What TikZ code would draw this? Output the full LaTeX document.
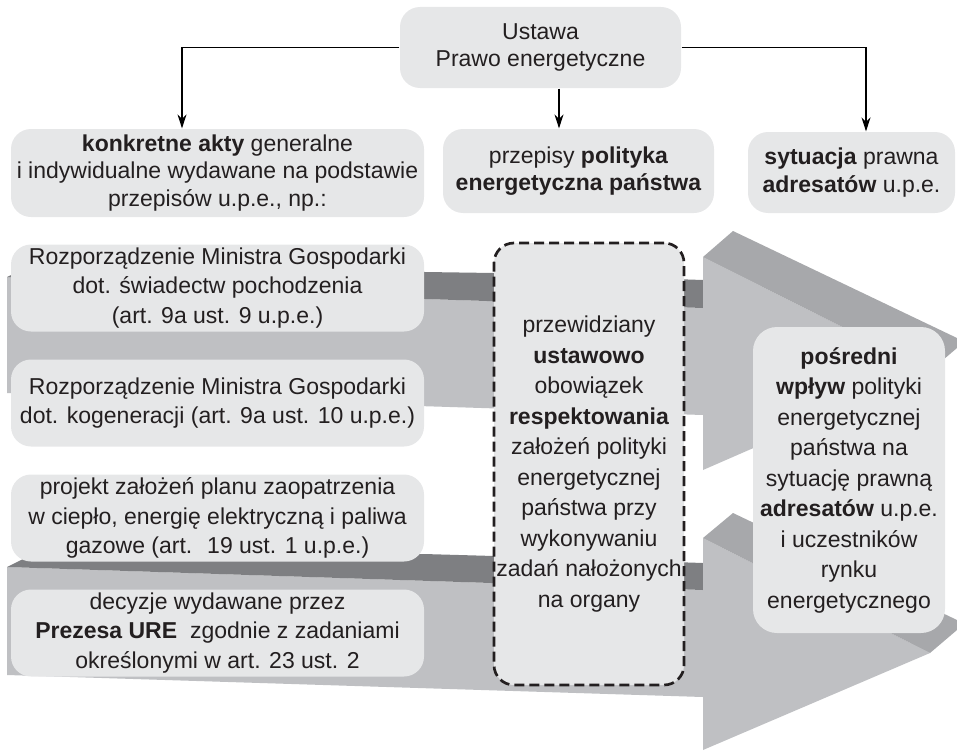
\documentclass[tikz,border=0pt]{standalone}
\usepackage{fontspec}
\setmainfont{Liberation Sans}
\usetikzlibrary{arrows.meta,positioning}

\definecolor{boxfill}{HTML}{E6E7E8}
\definecolor{shaftlight}{HTML}{BFC0C3}
\definecolor{shaftdark}{HTML}{7E7F82}
\definecolor{headbevel}{HTML}{A7A8AB}
\definecolor{ink}{HTML}{231F20}

\begin{document}
\begin{tikzpicture}[x=1pt,y=-1pt,>={Stealth[length=14pt,width=9pt]},line width=1.2pt,node distance=115pt]
\tikzstyle{every node}=[text=ink,font=\fontsize{23}{29.5}\selectfont]
\tikzstyle{box}=[fill=boxfill,rounded corners=20pt,align=center,inner sep=0pt,minimum width=413pt,minimum height=87pt]
\tikzstyle{topbox}=[box,font=\fontsize{23}{27.5}\selectfont]
\tikzstyle{dutybox}=[box,draw=ink,line width=2.7pt,dash pattern=on 10pt off 5pt,font=\fontsize{23}{30.5}\selectfont]
\useasboundingbox (0,0) rectangle (957,752);

\fill[shaftlight] (7,277) -- (425,299) -- (703,308) -- (703,415) -- (7,393) -- cycle;
\fill[shaftdark] (7,277) -- (35,264) -- (425,272) -- (494,273) -- (703,280) -- (703,308) -- (425,299) -- cycle;
\fill[shaftlight] (703,257) -- (930,371) -- (703,470) -- cycle;
\fill[headbevel] (703,257) -- (733,231) -- (957,338) -- (957,348) -- (930,371) -- cycle;

\fill[shaftlight] (7,567) -- (703,590) -- (703,697) -- (7,675) -- cycle;
\fill[shaftdark] (7,567) -- (23,559) -- (424,554) -- (494,556) -- (703,563) -- (703,590) -- cycle;
\fill[shaftlight] (703,538) -- (930,653) -- (703,750) -- cycle;
\fill[headbevel] (703,538) -- (733,513) -- (957,620) -- (957,630) -- (930,653) -- cycle;

\node[topbox,minimum width=281pt,minimum height=81pt] (law) at (540.5,47.5) {Ustawa\\Prawo energetyczne};
\node[topbox,minimum height=88pt] (acts) at (217.5,173) {\textbf{konkretne akty} generalne\\i indywidualne wydawane na podstawie\\przepisów u.p.e., np.:};
\node[topbox,minimum width=271pt,minimum height=84pt] (policy) at (578.5,171) {przepisy \textbf{polityka}\\\textbf{energetyczna państwa}};
\node[topbox,minimum width=207pt,minimum height=81pt] (status) at (851.5,172.5) {\textbf{sytuacja} prawna\\\textbf{adresatów} u.p.e.};

\node[box][below of=acts] (reg1) {Rozporządzenie Ministra Gospodarki\\dot. świadectw pochodzenia\\(art. 9a ust. 9 u.p.e.)};
\node[box][below of=reg1] (reg2) {Rozporządzenie Ministra Gospodarki\\dot. kogeneracji (art. 9a ust. 10 u.p.e.)};
\node[box][below of=reg2] (plan) {projekt założeń planu zaopatrzenia\\w ciepło, energię elektryczną i paliwa\\gazowe (art.~ 19 ust. 1 u.p.e.)};
\node[box][below of=plan] (ure) {decyzje wydawane przez\\\textbf{Prezesa URE}~ zgodnie z zadaniami\\określonymi w art. 23 ust. 2};

\node[dutybox,minimum width=190pt,minimum height=442pt] (duty) at (589,464) {przewidziany\\\textbf{ustawowo}\\obowiązek\\\textbf{respektowania}\\założeń polityki\\energetycznej\\państwa przy\\wykonywaniu\\zadań nałożonych\\na organy};
\node[box,minimum width=192pt,minimum height=306pt,rounded corners=24pt,font=\fontsize{23}{30.5}\selectfont] (effect) at (849,480) {\textbf{pośredni}\\\textbf{wpływ} polityki\\energetycznej\\państwa na\\sytuację prawną\\\textbf{adresatów} u.p.e.\\i uczestników\\rynku\\energetycznego};

\draw[->] (law.west) -| ([xshift=-35.5pt]acts.north);
\draw[->] ([xshift=18.5pt]law.south) -- ([xshift=-19.5pt]policy.north);
\draw[->] (law.east) -| ([xshift=14.5pt]status.north);
\end{tikzpicture}
\end{document}
